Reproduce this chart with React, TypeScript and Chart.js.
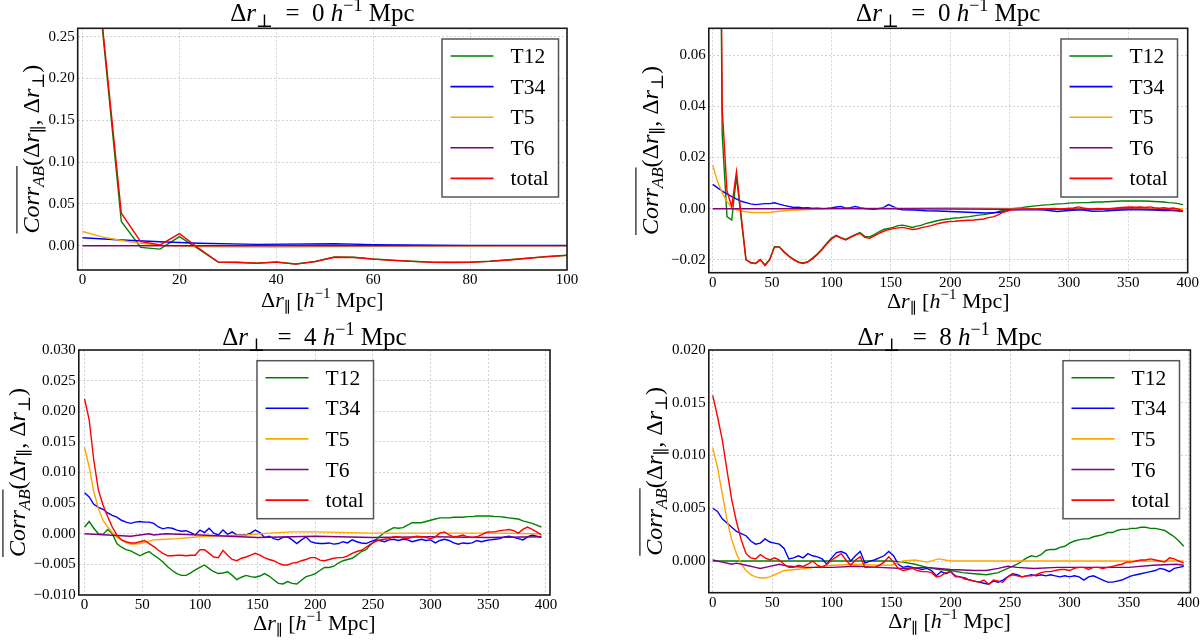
import React, { useEffect, useRef } from "react";
import { Chart, registerables } from "chart.js";
Chart.register(...registerables);

// ---------------- data ----------------
const SERIES_LABELS = ["T12", "T34", "T5", "T6", "total"];
const SERIES_COLORS = ["#008000", "#0000ff", "#ffa500", "#800080", "#ff0000"];

const xGrid100 = [0, 4, 8, 12, 16, 20, 24, 28, 32, 36, 40, 44, 48, 52, 56, 60, 64, 68, 72, 76, 80, 84, 88, 92, 96, 100];
const xGrid400 = [
  0, 4, 8, 12, 16, 20, 24, 28, 32, 36, 40, 44, 48, 52, 56, 60, 64, 68, 72, 76,
  80, 84, 88, 92, 96, 100, 104, 108, 112, 116, 120, 124, 128, 132, 136, 140, 144, 148, 152, 156,
  160, 164, 168, 172, 176, 180, 184, 188, 192, 196, 200, 204, 208, 212, 216, 220, 224, 228, 232, 236,
  240, 244, 248, 252, 256, 260, 264, 268, 272, 276, 280, 284, 288, 292, 296, 300, 304, 308, 312, 316,
  320, 324, 328, 332, 336, 340, 344, 348, 352, 356, 360, 364, 368, 372, 376, 380, 384, 388, 392, 396,
];

// Panel 1: dr_perp = 0, range 0-100
const tlT12 = [0.85, 0.265, 0.029, -0.002, -0.004, 0.011, -0.004, -0.0196, -0.0198, -0.0208, -0.0194, -0.0218, -0.0188, -0.0135, -0.0137, -0.0158, -0.0173, -0.0185, -0.0196, -0.0198, -0.0196, -0.0185, -0.0168, -0.0148, -0.0128, -0.0113];
const tlTotal = [0.9, 0.27, 0.039, 0.005, 0.001, 0.0144, -0.003, -0.0196, -0.02, -0.021, -0.0196, -0.022, -0.019, -0.0138, -0.014, -0.016, -0.0175, -0.0187, -0.0198, -0.02, -0.0198, -0.0187, -0.017, -0.015, -0.013, -0.0115];
const tlT34X = [0, 8, 16, 24, 36, 52, 60, 80, 100];
const tlT34 = [0.0095, 0.0069, 0.0047, 0.0029, 0.0016, 0.0023, 0.0013, 0.0004, 0.0003];
const tlT5X = [0, 4, 8, 12, 16, 20, 24, 28, 40, 60, 80, 100];
const tlT5 = [0.017, 0.0106, 0.0063, 0.0028, 0.0005, -0.0004, -0.0009, -0.0012, -0.0015, -0.0008, -0.0003, 0.0];
const tlT6X = [0, 100];
const tlT6 = [0.0, 0.0001];

// Panel 2: dr_perp = 0, range 0-400
const trT12 = [
  0.85, 0.265, 0.029, -0.0031, -0.0044, 0.0125, -0.004, -0.02, -0.021, -0.0215,
  -0.02, -0.022, -0.0197, -0.0148, -0.0148, -0.0167, -0.0184, -0.0197, -0.0208, -0.0212,
  -0.0207, -0.0193, -0.0177, -0.0157, -0.0135, -0.0115, -0.0104, -0.0113, -0.012, -0.011,
  -0.0101, -0.0093, -0.0108, -0.011, -0.0101, -0.009, -0.0081, -0.0077, -0.0073, -0.0066,
  -0.0064, -0.0068, -0.0073, -0.0068, -0.0064, -0.0057, -0.0053, -0.0048, -0.0044, -0.0041,
  -0.0039, -0.0036, -0.0035, -0.0033, -0.0031, -0.0028, -0.0025, -0.0023, -0.002, -0.0017,
  -0.0012, -0.0007, -0.0003, 0.0, 0.0002, 0.0004, 0.0007, 0.0009, 0.0011, 0.0013,
  0.0015, 0.0016, 0.0018, 0.0019, 0.002, 0.0022, 0.0023, 0.0023, 0.0024, 0.0024,
  0.0025, 0.0026, 0.0026, 0.0027, 0.0028, 0.0029, 0.003, 0.003, 0.003, 0.003,
  0.003, 0.003, 0.0029, 0.0028, 0.0027, 0.0026, 0.0024, 0.0023, 0.002, 0.0016,
];
const trTotal = [
  0.9, 0.27, 0.039, 0.007, 0.0008, 0.0145, -0.003, -0.0198, -0.0212, -0.0213,
  -0.0198, -0.0222, -0.02, -0.015, -0.015, -0.017, -0.0186, -0.0199, -0.021, -0.0214,
  -0.0209, -0.0196, -0.018, -0.016, -0.0138, -0.0118, -0.0106, -0.0115, -0.0122, -0.0112,
  -0.0103, -0.0096, -0.0112, -0.0115, -0.0106, -0.0096, -0.0088, -0.0082, -0.0078, -0.0075,
  -0.0073, -0.0077, -0.0081, -0.0079, -0.0074, -0.007, -0.0066, -0.006, -0.0056, -0.0052,
  -0.005, -0.0049, -0.0047, -0.0046, -0.0045, -0.0044, -0.0042, -0.004, -0.0035, -0.0032,
  -0.0025, -0.0015, -0.0008, -0.0004, -0.0003, -0.0002, -0.0002, -0.0001, -0.0002, 0.0,
  -0.0001, 0.0, 0.0001, -0.0001, 0.0, 0.0002, 0.0003, 0.0007, 0.0003, 0.0,
  -0.0002, 0.0001, 0.0, -0.0002, 0.0001, 0.0003, 0.0005, 0.0006, 0.0007, 0.0006,
  0.0007, 0.0005, 0.0007, 0.0004, 0.0002, 0.0004, 0.0001, 0.0003, -0.0002, -0.0009,
];
const trT34X = [
  0, 8, 16, 24, 28, 32, 36, 40, 44, 48, 52, 56, 60, 64, 68, 72, 76, 80, 84, 88,
  92, 96, 100, 104, 108, 112, 116, 120, 124, 128, 132, 136, 140, 144, 148, 152, 156, 160, 170, 180,
  190, 200, 210, 220, 230, 240, 244, 248, 252, 256, 260, 270, 280, 290, 300, 310, 320, 330, 340, 350,
  360, 370, 380, 390, 396,
];
const trT34 = [
  0.0095, 0.0069, 0.0047, 0.0029, 0.0024, 0.0019, 0.0016, 0.0018, 0.002, 0.002,
  0.0023, 0.0018, 0.0013, 0.0009, 0.0005, 0.0006, 0.0003, 0.0004, 0.0001, 0.0002,
  0.0, 0.0001, 0.0003, 0.0007, 0.0009, 0.0002, 0.0004, 0.0009, 0.0004, 0.0001,
  -0.0001, -0.0002, 0.0001, 0.0005, 0.0016, 0.0008, -0.0001, -0.0004, -0.0005, -0.0008,
  -0.0009, -0.0011, -0.0013, -0.0015, -0.0017, -0.0015, -0.0013, -0.0008, -0.0004, -0.0003,
  -0.0004, -0.0003, -0.0005, -0.0011, -0.0007, -0.0004, -0.001, -0.0009, -0.0006, -0.0004,
  -0.0004, -0.0005, -0.0007, -0.0006, -0.0011,
];
const trT5X = [0, 4, 8, 12, 16, 20, 24, 28, 32, 36, 40, 44, 48, 52, 56, 60, 70, 80, 100, 150, 200, 250, 300, 350, 396];
const trT5 = [0.017, 0.0106, 0.0063, 0.0028, 0.0005, -0.0004, -0.0009, -0.0012, -0.0014, -0.0015, -0.0015, -0.0015, -0.0014, -0.0012, -0.001, -0.0008, -0.0005, -0.0003, 0.0, 0.0002, 0.0004, 0.0001, 0.0, 0.0001, 0.0];
const trT6X = [0, 50, 100, 150, 200, 250, 300, 350, 380, 396];
const trT6 = [0.0, 0.0, 0.0001, 0.0, -0.0001, -0.0002, -0.0002, -0.0001, -0.0003, -0.001];

// Panel 3: dr_perp = 4
const blT12 = [
  0.0011, 0.002, 0.0009, 0.0, -0.0001, 0.0007, 0.0, -0.0016, -0.0022, -0.0026,
  -0.0028, -0.0032, -0.0036, -0.0032, -0.0029, -0.0035, -0.004, -0.0046, -0.0054, -0.006,
  -0.0065, -0.0068, -0.0068, -0.0064, -0.0059, -0.0055, -0.0051, -0.0057, -0.0062, -0.0065,
  -0.0064, -0.0062, -0.0068, -0.0075, -0.0071, -0.0068, -0.007, -0.0071, -0.0069, -0.0065,
  -0.0069, -0.0075, -0.0081, -0.0082, -0.0078, -0.0081, -0.0082, -0.0076, -0.007, -0.0068,
  -0.0065, -0.006, -0.0055, -0.0055, -0.0053, -0.0048, -0.0044, -0.0042, -0.004, -0.0035,
  -0.0029, -0.0026, -0.0018, -0.0011, -0.0004, 0.0002, 0.0006, 0.001, 0.0009, 0.001,
  0.0014, 0.0018, 0.0018, 0.0018, 0.002, 0.0022, 0.0024, 0.0026, 0.0026, 0.0026,
  0.0027, 0.0027, 0.0027, 0.0028, 0.0028, 0.0029, 0.0029, 0.0029, 0.0029, 0.0028,
  0.0028, 0.0027, 0.0026, 0.0025, 0.0024, 0.0021, 0.0019, 0.0017, 0.0014, 0.0011,
];
const blT34 = [
  0.0067, 0.006, 0.0048, 0.0043, 0.004, 0.0034, 0.003, 0.0027, 0.0022, 0.0019,
  0.0017, 0.0019, 0.002, 0.0019, 0.0019, 0.0017, 0.0011, 0.0008, 0.001, 0.0009,
  0.0006, 0.0004, 0.0005, 0.0002, -0.0002, 0.0006, 0.0002, 0.0009, 0.0001, -0.0002,
  0.0006, -0.0001, 0.0003, -0.0002, -0.0002, -0.0002, 0.0001, 0.0006, 0.0002, -0.0006,
  -0.0004, -0.0008, -0.001, -0.0006, -0.0005, -0.001, -0.0016, -0.001, -0.0005, -0.0013,
  -0.0015, -0.0016, -0.0016, -0.0015, -0.0017, -0.0016, -0.0013, -0.0015, -0.001, -0.0013,
  -0.0015, -0.0016, -0.0013, -0.001, -0.0011, -0.0013, -0.001, -0.0009, -0.0011, -0.0009,
  -0.001, -0.0013, -0.0011, -0.0009, -0.0011, -0.001, -0.0015, -0.0011, -0.0009, -0.0011,
  -0.0015, -0.0017, -0.0015, -0.0016, -0.0015, -0.0011, -0.0013, -0.0011, -0.001, -0.0009,
  -0.0008, -0.0005, -0.0004, -0.0006, -0.0008, -0.001, -0.0005, -0.0002, -0.0004, -0.0006,
];
const blT5X = [0, 4, 8, 12, 16, 20, 24, 28, 32, 36, 40, 44, 48, 52, 56, 60, 70, 80, 100, 120, 140, 160, 180, 200, 250, 300, 350, 396];
const blT5 = [0.0141, 0.0109, 0.0069, 0.0041, 0.0022, 0.0011, 0.0002, -0.0006, -0.001, -0.0015, -0.0017, -0.0017, -0.0016, -0.0014, -0.0012, -0.001, -0.0009, -0.0008, -0.0005, -0.0003, -0.0002, 0.0001, 0.0003, 0.0003, 0.0001, 0.0001, 0.0001, 0.0];
const blT6X = [0, 20, 40, 56, 60, 70, 100, 150, 200, 250, 300, 350, 396];
const blT6 = [0.0, -0.0002, -0.0004, 0.0, -0.0002, 0.0, -0.0002, -0.0006, -0.0004, -0.0006, -0.0005, -0.0006, -0.0005];
const blTotal = [
  0.022, 0.0186, 0.012, 0.0071, 0.0047, 0.0028, 0.0011, -0.0002, -0.001, -0.0013,
  -0.0015, -0.0015, -0.0013, -0.0011, -0.0016, -0.0021, -0.0027, -0.0032, -0.0036, -0.0036,
  -0.0035, -0.0035, -0.0036, -0.0035, -0.0035, -0.0026, -0.0026, -0.0032, -0.0038, -0.0039,
  -0.0027, -0.0035, -0.0042, -0.0044, -0.004, -0.0038, -0.0035, -0.0032, -0.0035, -0.0039,
  -0.0042, -0.0044, -0.0048, -0.0051, -0.0051, -0.0048, -0.0047, -0.0044, -0.0042, -0.0039,
  -0.0039, -0.0043, -0.0044, -0.0042, -0.004, -0.0039, -0.0039, -0.0036, -0.0032, -0.0029,
  -0.0027, -0.0022, -0.0017, -0.0013, -0.001, -0.0009, -0.0008, -0.0005, -0.0005, -0.0007,
  -0.0008, -0.0006, -0.0004, -0.0005, -0.0006, -0.0008, -0.0005, 0.0001, 0.0003, -0.0002,
  -0.0005, -0.0004, -0.0002, -0.0005, -0.0006, -0.0005, -0.0002, 0.0002, 0.0003, 0.0003,
  0.0005, 0.0006, 0.0007, 0.0005, 0.0001, 0.0007, 0.0011, 0.0007, 0.0003, -0.0002,
];

// Panel 4: dr_perp = 8
const brT12X = [
  0, 40, 80, 120, 150, 160, 170, 180, 190, 200, 210, 220, 230, 240, 250, 256, 260, 264, 268, 272,
  276, 280, 284, 288, 292, 296, 300, 304, 308, 312, 316, 320, 324, 328, 332, 336, 340, 344, 348, 352,
  356, 360, 364, 368, 372, 376, 380, 384, 388, 392, 396,
];
const brT12 = [
  0.0, 0.0, 0.0, 0.0, 0.0, -0.0001, -0.0003, -0.0006, -0.0008, -0.0009,
  -0.0011, -0.0012, -0.0013, -0.0011, -0.0006, -0.0003, 0.0, 0.0003, 0.0005, 0.0004,
  0.0006, 0.001, 0.0011, 0.0011, 0.0013, 0.0014, 0.0017, 0.0019, 0.002, 0.0021,
  0.0021, 0.0023, 0.0024, 0.0025, 0.0027, 0.0027, 0.0029, 0.003, 0.003, 0.0031,
  0.0031, 0.0032, 0.0032, 0.0031, 0.0031, 0.003, 0.0029, 0.0026, 0.0023, 0.0019,
  0.0014,
];
const brT34 = [
  0.005, 0.0047, 0.004, 0.0036, 0.0032, 0.0028, 0.0026, 0.0024, 0.0019, 0.0016,
  0.0017, 0.0021, 0.0018, 0.0017, 0.0016, 0.0012, 0.0002, 0.0003, 0.0005, 0.0003,
  0.0007, 0.0005, 0.0004, 0.0002, -0.0003, 0.0003, 0.0008, 0.0009, 0.0007, 0.0,
  0.0005, 0.0009, -0.0002, 0.0, 0.0001, 0.0003, 0.0005, 0.0009, 0.0005, -0.0003,
  -0.0006, -0.0005, -0.0006, -0.0007, -0.0008, -0.0007, -0.0009, -0.0014, -0.001, -0.0012,
  -0.001, -0.0014, -0.0015, -0.0016, -0.0018, -0.0019, -0.002, -0.0021, -0.0022, -0.0019,
  -0.002, -0.0018, -0.0015, -0.0012, -0.0013, -0.0015, -0.0014, -0.0013, -0.0014, -0.0013,
  -0.0014, -0.0013, -0.0014, -0.0015, -0.0014, -0.0015, -0.0014, -0.0015, -0.0018, -0.0015,
  -0.0014, -0.0016, -0.0018, -0.002, -0.002, -0.0019, -0.0018, -0.0016, -0.0014, -0.0013,
  -0.0012, -0.0011, -0.001, -0.0009, -0.0007, -0.0008, -0.001, -0.0007, -0.0006, -0.0005,
];
const brT5X = [0, 4, 8, 12, 16, 20, 24, 28, 32, 36, 40, 44, 48, 52, 56, 60, 70, 80, 90, 100, 120, 140, 150, 160, 170, 180, 190, 200, 210, 250, 300, 350, 396];
const brT5 = [0.0107, 0.0089, 0.0064, 0.0039, 0.002, 0.0007, -0.0003, -0.0009, -0.0013, -0.0015, -0.0016, -0.0016, -0.0015, -0.0013, -0.0011, -0.0009, -0.0008, -0.0007, -0.0005, -0.0004, -0.0003, -0.0004, -0.0004, 0.0, 0.0001, -0.0001, 0.0002, 0.0, 0.0, 0.0, 0.0, 0.0, 0.0];
const brT6X = [0, 8, 16, 20, 28, 36, 40, 48, 56, 64, 80, 100, 120, 140, 160, 180, 200, 220, 230, 240, 248, 256, 270, 290, 310, 330, 350, 370, 390, 396];
const brT6 = [0.0001, -0.0001, -0.0003, -0.0002, -0.0004, -0.0006, -0.0007, -0.0005, -0.0003, -0.0005, -0.0006, -0.0006, -0.0005, -0.0006, -0.0007, -0.0006, -0.0008, -0.0009, -0.0009, -0.0007, -0.0005, -0.0006, -0.0007, -0.0006, -0.0006, -0.0006, -0.0006, -0.0004, -0.0003, -0.0004];
const brTotal = [
  0.0157, 0.0137, 0.0115, 0.0086, 0.0058, 0.0037, 0.002, 0.0007, 0.0003, 0.0002,
  0.0006, 0.0003, 0.0001, 0.0003, 0.0001, -0.0003, -0.0006, -0.0006, -0.0004, -0.0005,
  -0.0003, 0.0, -0.0004, -0.0006, -0.0003, 0.0001, 0.0004, 0.0007, 0.0001, -0.0004,
  0.0001, 0.0004, -0.0006, -0.0006, -0.0006, -0.0004, -0.0001, 0.0004, -0.0001, -0.0007,
  -0.0009, -0.0008, -0.0007, -0.0009, -0.001, -0.001, -0.0011, -0.0015, -0.0014, -0.0011,
  -0.001, -0.0015, -0.0015, -0.0017, -0.0018, -0.0019, -0.002, -0.0018, -0.0022, -0.0018,
  -0.0019, -0.002, -0.0015, -0.0013, -0.0014, -0.0015, -0.0014, -0.0014, -0.0013, -0.0011,
  -0.001, -0.001, -0.0009, -0.0008, -0.0008, -0.0009, -0.0007, -0.0006, -0.0006, -0.0008,
  -0.0006, -0.0006, -0.0007, -0.0006, -0.0005, -0.0004, -0.0003, -0.0001, -0.0001, 0.0,
  0.0001, 0.0001, 0.0002, 0.0001, 0.0, -0.0001, 0.0003, 0.0002, 0.0, -0.0002,
];

// tick values
const tlXTicks = [0, 20, 40, 60, 80, 100];
const tlYTicks = [0, 0.05, 0.1, 0.15, 0.2, 0.25];
const x400Ticks = [0, 50, 100, 150, 200, 250, 300, 350, 400];
const trYTicks = [-0.02, 0, 0.02, 0.04, 0.06];
const blYTicks = [-0.01, -0.005, 0, 0.005, 0.01, 0.015, 0.02, 0.025, 0.03];
const brYTicks = [0, 0.005, 0.01, 0.015, 0.02];

// ---------------- rendering ----------------
const FONT = '"Liberation Serif", "DejaVu Serif", serif';

type Seg = { t: string; it?: boolean; sub?: boolean; sup?: boolean; ol?: boolean };

function drawRich(ctx: CanvasRenderingContext2D, segs: Seg[], size: number, x: number, y: number, rotate: boolean) {
  ctx.save();
  ctx.translate(x, y);
  if (rotate) ctx.rotate(-Math.PI / 2);
  ctx.fillStyle = "#000";
  ctx.textBaseline = "alphabetic";
  ctx.textAlign = "left";
  const fonts = segs.map((s) => `${s.it ? "italic " : ""}${s.sub || s.sup ? Math.round(size * 0.7) : size}px ${FONT}`);
  const widths = segs.map((s, i) => {
    ctx.font = fonts[i];
    return ctx.measureText(s.t).width;
  });
  const total = widths.reduce((a, b) => a + b, 0);
  let cx = -total / 2;
  let olStart: number | null = null;
  let olEnd = 0;
  segs.forEach((s, i) => {
    ctx.font = fonts[i];
    const dy = s.sub ? size * 0.22 : s.sup ? -size * 0.4 : 0;
    ctx.fillText(s.t, cx, dy);
    if (s.ol) {
      if (olStart === null) olStart = cx;
      olEnd = cx + widths[i];
    }
    cx += widths[i];
  });
  if (olStart !== null) {
    ctx.beginPath();
    ctx.moveTo(olStart, -size * 0.92);
    ctx.lineTo(olEnd, -size * 0.92);
    ctx.lineWidth = 1.1;
    ctx.strokeStyle = "#000";
    ctx.stroke();
  }
  ctx.restore();
}

const titleSegs = (v: string): Seg[] => [
  { t: "Δ" }, { t: "r", it: true }, { t: "⊥", sub: true }, { t: "\u2002=\u2002" + v + " " },
  { t: "h", it: true }, { t: "−1", sup: true }, { t: " Mpc" },
];
const xLabelSegs: Seg[] = [
  { t: "Δ" }, { t: "r", it: true }, { t: "∥", sub: true }, { t: " [" },
  { t: "h", it: true }, { t: "−1", sup: true }, { t: " Mpc]" },
];
const yLabelSegs: Seg[] = [
  { t: "Corr", it: true, ol: true }, { t: "AB", it: true, sub: true, ol: true },
  { t: "(Δ" }, { t: "r", it: true }, { t: "∥", sub: true }, { t: ", Δ" },
  { t: "r", it: true }, { t: "⊥", sub: true }, { t: ")" },
];

type SeriesDef = { xs: number[]; ys: number[] };
type PanelDef = {
  key: string;
  left: number;
  top: number;
  plot: { l: number; t: number; r: number; b: number };
  xMin: number; xMax: number; xTicks: number[];
  yMin: number; yMax: number; yTicks: number[]; yDec: number;
  perp: string;
  series: SeriesDef[];
  legend: { x: number; y: number };
  yLabelX: number; titleY: number; xLabelY: number;
};

const W = 600;
const H = 320;

const panels: PanelDef[] = [
  {
    key: "tl", left: 0, top: 0, plot: { l: 77.7, t: 28.3, r: 567, b: 270 },
    xMin: -1, xMax: 100, xTicks: tlXTicks, yMin: -0.029, yMax: 0.26, yTicks: tlYTicks, yDec: 2, perp: "0",
    series: [
      { xs: xGrid100, ys: tlT12 }, { xs: tlT34X, ys: tlT34 }, { xs: tlT5X, ys: tlT5 },
      { xs: tlT6X, ys: tlT6 }, { xs: xGrid100, ys: tlTotal },
    ],
    legend: { x: 442, y: 39 }, yLabelX: 39, titleY: 21, xLabelY: 307,
  },
  {
    key: "tr", left: 600, top: 0, plot: { l: 108.8, t: 28.3, r: 587.7, b: 272.7 },
    xMin: -3.3, xMax: 400, xTicks: x400Ticks, yMin: -0.025, yMax: 0.0705, yTicks: trYTicks, yDec: 2, perp: "0",
    series: [
      { xs: xGrid400, ys: trT12 }, { xs: trT34X, ys: trT34 }, { xs: trT5X, ys: trT5 },
      { xs: trT6X, ys: trT6 }, { xs: xGrid400, ys: trTotal },
    ],
    legend: { x: 461, y: 39 }, yLabelX: 58, titleY: 21, xLabelY: 308,
  },
  {
    key: "bl", left: 0, top: 320, plot: { l: 78.8, t: 30, r: 550, b: 275 },
    xMin: -5, xMax: 403.5, xTicks: x400Ticks, yMin: -0.01, yMax: 0.03, yTicks: blYTicks, yDec: 3, perp: "4",
    series: [
      { xs: xGrid400, ys: blT12 }, { xs: xGrid400, ys: blT34 }, { xs: blT5X, ys: blT5 },
      { xs: blT6X, ys: blT6 }, { xs: xGrid400, ys: blTotal },
    ],
    legend: { x: 257, y: 40.7 }, yLabelX: 25, titleY: 25, xLabelY: 310,
  },
  {
    key: "br", left: 600, top: 320, plot: { l: 108.8, t: 30, r: 590.4, b: 272.7 },
    xMin: -3.3, xMax: 401.6, xTicks: x400Ticks, yMin: -0.003, yMax: 0.02, yTicks: brYTicks, yDec: 3, perp: "8",
    series: [
      { xs: brT12X, ys: brT12 }, { xs: xGrid400, ys: brT34 }, { xs: brT5X, ys: brT5 },
      { xs: brT6X, ys: brT6 }, { xs: xGrid400, ys: brTotal },
    ],
    legend: { x: 463, y: 40.7 }, yLabelX: 62, titleY: 25, xLabelY: 308,
  },
];

function decorPlugin(def: PanelDef) {
  return {
    id: "decor_" + def.key,
    afterDatasetsDraw(chart: any) {
      const ctx: CanvasRenderingContext2D = chart.ctx;
      const a = chart.chartArea;
      ctx.save();
      // axes frame
      ctx.strokeStyle = "#1a1a1a";
      ctx.lineWidth = 1.6;
      ctx.strokeRect(a.left, a.top, a.right - a.left, a.bottom - a.top);
      // legend
      const lg = def.legend;
      const lw = 116.5;
      const lh = 158;
      ctx.fillStyle = "#fff";
      ctx.fillRect(lg.x, lg.y, lw, lh);
      ctx.strokeStyle = "#555";
      ctx.lineWidth = 1.5;
      ctx.strokeRect(lg.x, lg.y, lw, lh);
      chart.data.datasets.forEach((ds: any, i: number) => {
        const ry = lg.y + 17 + i * 30.6;
        ctx.beginPath();
        ctx.moveTo(lg.x + 8.5, ry);
        ctx.lineTo(lg.x + 51.5, ry);
        ctx.strokeStyle = ds.borderColor;
        ctx.lineWidth = 1.6;
        ctx.stroke();
        ctx.font = `21.5px ${FONT}`;
        ctx.fillStyle = "#000";
        ctx.textBaseline = "alphabetic";
        ctx.textAlign = "left";
        ctx.fillText(ds.label, lg.x + 68.5, ry + 7);
      });
      ctx.restore();
      const cxm = (a.left + a.right) / 2;
      drawRich(ctx, titleSegs(def.perp), 25, cxm, def.titleY, false);
      drawRich(ctx, xLabelSegs, 22, cxm, def.xLabelY, false);
      drawRich(ctx, yLabelSegs, 24, def.yLabelX, (a.top + a.bottom) / 2, true);
    },
  };
}

function Panel({ def }: { def: PanelDef }) {
  const ref = useRef<HTMLCanvasElement>(null);
  useEffect(() => {
    const canvas = ref.current;
    if (!canvas) return;
    const p = def.plot;
    const fmtY = (v: number) => v.toFixed(def.yDec).replace("-", "−");
    const chart = new Chart(canvas, {
      type: "line",
      data: {
        datasets: def.series.map((s, i) => ({
          label: SERIES_LABELS[i],
          data: s.xs.map((x, j) => ({ x, y: s.ys[j] })),
          borderColor: SERIES_COLORS[i],
          backgroundColor: SERIES_COLORS[i],
          borderWidth: 1.4,
          pointRadius: 0,
          tension: 0,
          fill: false,
          order: 4 - i,
        })),
      },
      options: {
        responsive: false,
        animation: false,
        events: [],
        layout: { padding: { top: p.t, right: W - p.r, left: 0, bottom: 0 } },
        plugins: { legend: { display: false }, tooltip: { enabled: false }, title: { display: false } },
        scales: {
          x: {
            type: "linear",
            min: def.xMin,
            max: def.xMax,
            afterBuildTicks: (s: any) => {
              s.ticks = def.xTicks.map((v) => ({ value: v }));
            },
            afterFit: (s: any) => {
              s.height = H - p.b;
              s.paddingLeft = 0;
              s.paddingRight = 0;
            },
            ticks: {
              autoSkip: false,
              maxRotation: 0,
              padding: 1,
              color: "#000",
              font: { family: FONT, size: 15 },
              callback: (v: any) => String(v),
            },
            grid: { color: "rgba(0,0,0,0.22)", lineWidth: 0.8, drawTicks: false },
            border: { display: false, dash: [2, 2] },
          },
          y: {
            type: "linear",
            min: def.yMin,
            max: def.yMax,
            afterBuildTicks: (s: any) => {
              s.ticks = def.yTicks.map((v) => ({ value: v }));
            },
            afterFit: (s: any) => {
              s.width = p.l;
              s.paddingTop = 0;
              s.paddingBottom = 0;
            },
            ticks: {
              padding: 3,
              color: "#000",
              font: { family: FONT, size: 15 },
              callback: (v: any) => fmtY(Number(v)),
            },
            grid: { color: "rgba(0,0,0,0.22)", lineWidth: 0.8, drawTicks: false },
            border: { display: false, dash: [2, 2] },
          },
        },
      },
      plugins: [decorPlugin(def)],
    } as any);
    return () => chart.destroy();
  }, [def]);
  return (
    <canvas
      ref={ref}
      width={W}
      height={H}
      style={{ position: "absolute", left: def.left, top: def.top, width: W, height: H }}
    />
  );
}

export default function App() {
  return (
    <div style={{ position: "absolute", left: 0, top: 0, width: 1200, height: 640, background: "#fff", overflow: "hidden" }}>
      {panels.map((d) => (
        <Panel key={d.key} def={d} />
      ))}
    </div>
  );
}
